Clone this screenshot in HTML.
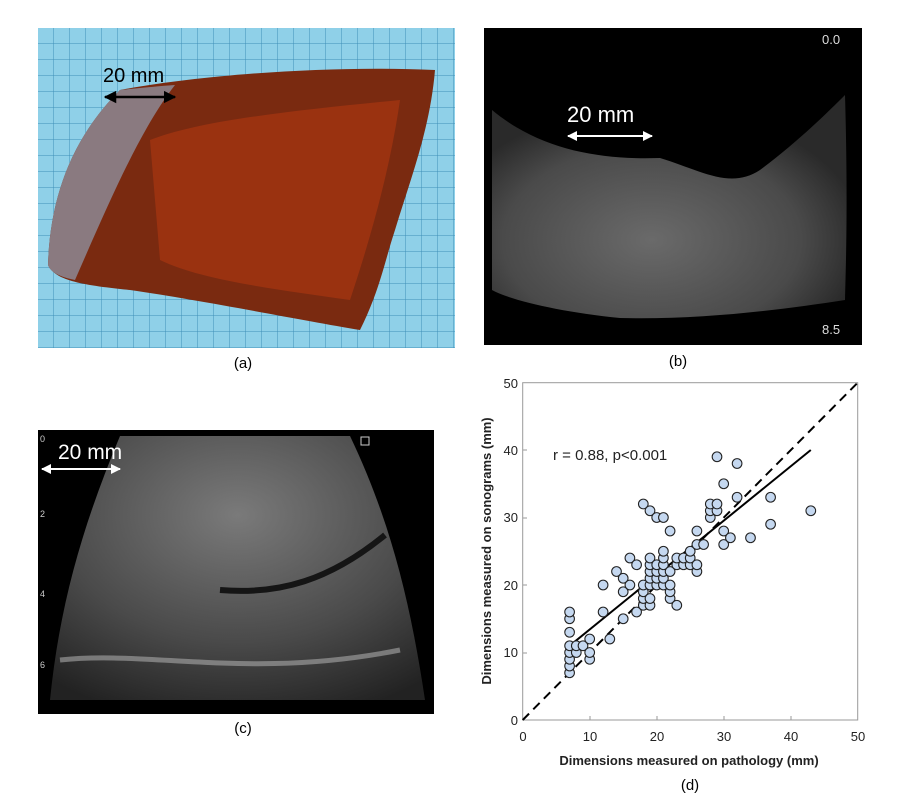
<!DOCTYPE html>
<html><head><meta charset="utf-8"><style>
html,body{margin:0;padding:0;background:#fff;width:900px;height:802px;overflow:hidden}
svg{display:block}
text{font-family:"Liberation Sans",sans-serif}
</style></head><body>
<svg width="900" height="802" viewBox="0 0 900 802" xmlns="http://www.w3.org/2000/svg">
<defs>
<pattern id="grid" width="16" height="16" patternUnits="userSpaceOnUse" x="38" y="28">
<rect width="16" height="16" fill="#8fd0e8"/>
<path d="M16 0V16M0 16H16" stroke="#3f8fb8" stroke-width="1" fill="none"/>
</pattern>
<radialGradient id="us" cx="0.45" cy="0.65" r="0.6">
<stop offset="0" stop-color="#6a6a6a"/><stop offset="0.7" stop-color="#4a4a4a"/><stop offset="1" stop-color="#2a2a2a"/>
</radialGradient>
<radialGradient id="us2" cx="0.5" cy="0.3" r="0.8">
<stop offset="0" stop-color="#7a7a7a"/><stop offset="0.6" stop-color="#4a4a4a"/><stop offset="1" stop-color="#222"/>
</radialGradient>
<marker id="ah" viewBox="0 0 10 10" refX="9" refY="5" markerWidth="5" markerHeight="5" orient="auto-start-reverse"><path d="M0 0L10 5L0 10z" fill="#000"/></marker>
<marker id="aw" viewBox="0 0 10 10" refX="9" refY="5" markerWidth="5" markerHeight="5" orient="auto-start-reverse"><path d="M0 0L10 5L0 10z" fill="#fff"/></marker>
</defs>

<!-- (a) -->
<rect x="38" y="28" width="417" height="320" fill="url(#grid)"/>
<path d="M48 265 C50 200 70 140 120 90 C200 75 330 65 435 70 C430 130 410 180 395 230 C385 260 380 290 360 330 C300 320 200 300 130 290 C80 285 55 280 48 265Z" fill="#7a2a10"/>
<path d="M48 265 C50 200 70 140 120 90 C140 88 160 86 175 85 C140 130 110 200 75 280 C60 277 50 272 48 265Z" fill="#8a7a80"/>
<path d="M150 140 C200 120 300 110 400 100 C390 170 370 240 350 300 C280 290 200 280 160 260Z" fill="#9a3210"/>
<line x1="105" y1="97" x2="175" y2="97" stroke="#000" stroke-width="2.5" marker-start="url(#ah)" marker-end="url(#ah)"/>
<text x="103" y="82" font-size="20" fill="#000">20 mm</text>
<text x="243" y="368" font-size="15" text-anchor="middle" fill="#000">(a)</text>

<!-- (b) -->
<rect x="484" y="28" width="378" height="317" fill="#000"/>
<path d="M492 110 C540 150 600 160 660 158 C700 170 730 190 760 170 C800 140 830 110 845 95 C848 200 846 260 845 300 C780 310 700 320 620 318 C560 312 510 300 492 290Z" fill="url(#us)"/>
<line x1="568" y1="136" x2="652" y2="136" stroke="#fff" stroke-width="2" marker-start="url(#aw)" marker-end="url(#aw)"/>
<text x="567" y="122" font-size="22" fill="#fff">20 mm</text>
<text x="822" y="44" font-size="13" fill="#ddd">0.0</text>
<text x="822" y="334" font-size="13" fill="#ddd">8.5</text>
<text x="678" y="366" font-size="15" text-anchor="middle" fill="#000">(b)</text>

<!-- (c) -->
<rect x="38" y="430" width="396" height="284" fill="#000"/>
<path d="M120 436 L350 436 C390 520 410 600 425 700 L50 700 C60 600 85 520 120 436Z" fill="url(#us2)"/>
<path d="M220 590 C280 595 330 580 385 535" stroke="#151515" stroke-width="6" fill="none"/>
<path d="M60 660 C150 650 250 680 400 650" stroke="#aaa" stroke-width="5" fill="none" opacity="0.6"/>
<line x1="42" y1="469" x2="120" y2="469" stroke="#fff" stroke-width="2" marker-start="url(#aw)" marker-end="url(#aw)"/>
<text x="58" y="459" font-size="21" fill="#fff">20 mm</text>
<text x="40" y="442" font-size="9" fill="#ccc">0</text>
<text x="40" y="517" font-size="9" fill="#ccc">2</text>
<text x="40" y="597" font-size="9" fill="#ccc">4</text>
<text x="40" y="668" font-size="9" fill="#ccc">6</text>
<rect x="361" y="437" width="8" height="8" fill="none" stroke="#ccc"/>
<text x="243" y="733" font-size="15" text-anchor="middle" fill="#000">(c)</text>

<!-- (d) -->
<rect x="522.7" y="382.7" width="335" height="337.3" fill="none" stroke="#9a9a9a" stroke-width="1"/>
<g font-size="13" fill="#222">
<text x="518" y="725" text-anchor="end">0</text>
<text x="518" y="657" text-anchor="end">10</text>
<text x="518" y="590" text-anchor="end">20</text>
<text x="518" y="522" text-anchor="end">30</text>
<text x="518" y="455" text-anchor="end">40</text>
<text x="518" y="388" text-anchor="end">50</text>
<text x="523" y="741" text-anchor="middle">0</text>
<text x="590" y="741" text-anchor="middle">10</text>
<text x="657" y="741" text-anchor="middle">20</text>
<text x="724" y="741" text-anchor="middle">30</text>
<text x="791" y="741" text-anchor="middle">40</text>
<text x="858" y="741" text-anchor="middle">50</text>
</g>
<g stroke="#9a9a9a"><line x1="523" y1="653" x2="527" y2="653"/><line x1="523" y1="585" x2="527" y2="585"/><line x1="523" y1="518" x2="527" y2="518"/><line x1="523" y1="450" x2="527" y2="450"/>
<line x1="590" y1="720" x2="590" y2="716"/><line x1="657" y1="720" x2="657" y2="716"/><line x1="724" y1="720" x2="724" y2="716"/><line x1="791" y1="720" x2="791" y2="716"/></g>
<text x="689" y="765" font-size="13" font-weight="bold" text-anchor="middle" fill="#222">Dimensions measured on pathology (mm)</text>
<text transform="translate(491,551) rotate(-90)" font-size="13" font-weight="bold" text-anchor="middle" fill="#222">Dimensions measured on sonograms (mm)</text>
<text x="553" y="460" font-size="15" fill="#222">r = 0.88, p&lt;0.001</text>
<line x1="522.7" y1="720" x2="857.7" y2="382.7" stroke="#000" stroke-width="2" stroke-dasharray="9,6"/>
<line x1="569.6" y1="645.8" x2="810.8" y2="450" stroke="#000" stroke-width="2"/>
<g transform="translate(522.7,720) scale(6.7,-6.75)" fill="#c5d8f0" stroke="#222" stroke-width="0.16">
<circle cx="7" cy="7" r="0.72"/><circle cx="7" cy="8" r="0.72"/><circle cx="7" cy="9" r="0.72"/><circle cx="7" cy="10" r="0.72"/><circle cx="7" cy="11" r="0.72"/><circle cx="7" cy="13" r="0.72"/><circle cx="7" cy="15" r="0.72"/><circle cx="7" cy="16" r="0.72"/>
<circle cx="8" cy="10" r="0.72"/><circle cx="8" cy="11" r="0.72"/><circle cx="9" cy="11" r="0.72"/><circle cx="10" cy="9" r="0.72"/><circle cx="10" cy="10" r="0.72"/><circle cx="10" cy="12" r="0.72"/>
<circle cx="13" cy="12" r="0.72"/><circle cx="12" cy="16" r="0.72"/><circle cx="12" cy="20" r="0.72"/><circle cx="14" cy="22" r="0.72"/><circle cx="15" cy="15" r="0.72"/><circle cx="15" cy="19" r="0.72"/><circle cx="15" cy="21" r="0.72"/><circle cx="16" cy="20" r="0.72"/><circle cx="16" cy="24" r="0.72"/><circle cx="17" cy="23" r="0.72"/><circle cx="17" cy="16" r="0.72"/>
<circle cx="18" cy="17" r="0.72"/><circle cx="18" cy="18" r="0.72"/><circle cx="18" cy="19" r="0.72"/><circle cx="18" cy="20" r="0.72"/><circle cx="18" cy="32" r="0.72"/>
<circle cx="19" cy="17" r="0.72"/><circle cx="19" cy="18" r="0.72"/><circle cx="19" cy="20" r="0.72"/><circle cx="19" cy="21" r="0.72"/><circle cx="19" cy="22" r="0.72"/><circle cx="19" cy="23" r="0.72"/><circle cx="19" cy="24" r="0.72"/><circle cx="19" cy="31" r="0.72"/>
<circle cx="20" cy="20" r="0.72"/><circle cx="20" cy="21" r="0.72"/><circle cx="20" cy="22" r="0.72"/><circle cx="20" cy="23" r="0.72"/><circle cx="20" cy="30" r="0.72"/>
<circle cx="21" cy="20" r="0.72"/><circle cx="21" cy="21" r="0.72"/><circle cx="21" cy="22" r="0.72"/><circle cx="21" cy="23" r="0.72"/><circle cx="21" cy="24" r="0.72"/><circle cx="21" cy="25" r="0.72"/><circle cx="21" cy="30" r="0.72"/>
<circle cx="22" cy="18" r="0.72"/><circle cx="22" cy="19" r="0.72"/><circle cx="22" cy="20" r="0.72"/><circle cx="22" cy="22" r="0.72"/><circle cx="22" cy="28" r="0.72"/><circle cx="23" cy="17" r="0.72"/><circle cx="23" cy="23" r="0.72"/><circle cx="23" cy="24" r="0.72"/>
<circle cx="24" cy="23" r="0.72"/><circle cx="24" cy="24" r="0.72"/><circle cx="25" cy="23" r="0.72"/><circle cx="25" cy="24" r="0.72"/><circle cx="25" cy="25" r="0.72"/><circle cx="26" cy="22" r="0.72"/><circle cx="26" cy="23" r="0.72"/><circle cx="26" cy="26" r="0.72"/><circle cx="26" cy="28" r="0.72"/><circle cx="27" cy="26" r="0.72"/>
<circle cx="28" cy="30" r="0.72"/><circle cx="28" cy="31" r="0.72"/><circle cx="28" cy="32" r="0.72"/><circle cx="29" cy="31" r="0.72"/><circle cx="29" cy="32" r="0.72"/><circle cx="29" cy="39" r="0.72"/>
<circle cx="30" cy="26" r="0.72"/><circle cx="30" cy="28" r="0.72"/><circle cx="30" cy="35" r="0.72"/><circle cx="31" cy="27" r="0.72"/><circle cx="32" cy="33" r="0.72"/><circle cx="32" cy="38" r="0.72"/><circle cx="34" cy="27" r="0.72"/><circle cx="37" cy="29" r="0.72"/><circle cx="37" cy="33" r="0.72"/><circle cx="43" cy="31" r="0.72"/>
</g>
<text x="690" y="790" font-size="15" text-anchor="middle" fill="#000">(d)</text>
</svg>
</body></html>
